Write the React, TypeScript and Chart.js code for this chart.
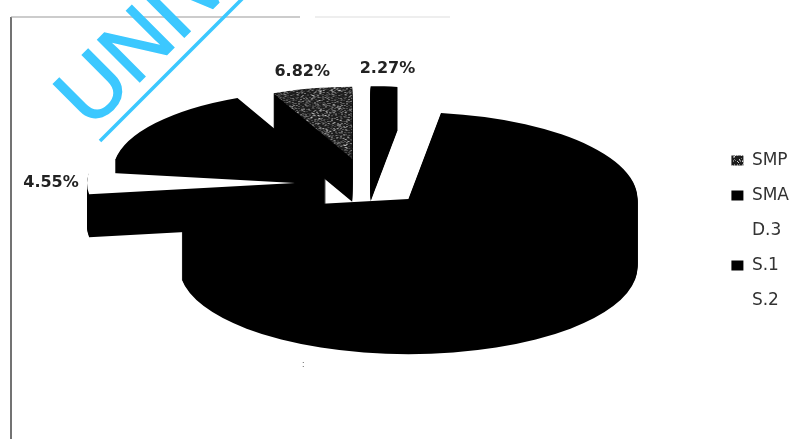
import React, { useEffect, useRef } from "react";
import { Chart, registerables } from "chart.js";

Chart.register(...registerables);

// Share of respondents per education level, clockwise from the rotation start.
const categories = ["SMP", "SMA", "D.3", "S.1", "S.2", ""];
const shares = [6.82, 2.27, 0, 70.45, 4.55, 15.91];
const labelledCategories = ["SMP", "SMA", "S.2"];

// Presentation of each slice, in the same order as the categories.
const sliceRadius = [190, 190, 190, 229, 208, 213];
const sliceDepth = [43, 43, 43, 68, 43, 43];
const sliceExplode = [65, 65, 65, 60, 71, 50];
const labelDistance = [300, 301, 190, 229, 315, 205];
// Back-to-front paint order of the extruded slices.
const paintOrder = [0, 1, 5, 2, 3, 4];

const TILT = 0.38;
const CENTER_X = 366;
const CENTER_Y = 183;
const ROTATION = -24.55;

function speckle(): CanvasPattern | string {
  const tile = document.createElement("canvas");
  tile.width = 48;
  tile.height = 48;
  const g = tile.getContext("2d");
  if (!g) return "#222";
  g.fillStyle = "#1c1c1c";
  g.fillRect(0, 0, 48, 48);
  // Small linear congruential sequence so the stipple is the same on every draw.
  let s = 12345;
  for (let i = 0; i < 620; i++) {
    s = (s * 1103515 + 12345) % 2147483648;
    const x = (s >> 8) % 48;
    s = (s * 1103515 + 12345) % 2147483648;
    const y = (s >> 8) % 48;
    g.fillStyle = i % 3 === 0 ? "#d0d0d0" : "#7a7a7a";
    g.fillRect(x, y, 1, 1);
  }
  return g.createPattern(tile, "repeat") ?? "#222";
}

const pie3d = {
  id: "pie3d",
  afterDatasetsUpdate(chart: any) {
    const arcs = chart.getDatasetMeta(0).data;
    arcs.forEach((arc: any, i: number) => {
      arc.outerRadius = sliceRadius[i];
    });
  },
  beforeDatasetDraw(chart: any) {
    const { ctx } = chart;
    const arcs = chart.getDatasetMeta(0).data;
    for (const i of paintOrder) {
      const arc = arcs[i];
      const face = arc.options;
      const side = { ...face, backgroundColor: "#000", borderColor: "#000" };
      const mid = (arc.startAngle + arc.endAngle) / 2;
      const place = (drop: number) => {
        ctx.save();
        ctx.translate(CENTER_X, CENTER_Y + drop);
        ctx.scale(1, TILT);
        ctx.translate(Math.cos(mid) * sliceExplode[i], Math.sin(mid) * sliceExplode[i]);
        ctx.translate(-arc.x, -arc.y);
      };
      arc.options = side;
      for (let drop = sliceDepth[i]; drop > 0; drop--) {
        place(drop);
        arc.draw(ctx);
        ctx.restore();
      }
      arc.options = face;
      place(0);
      arc.draw(ctx);
      ctx.restore();
    }
    return false;
  },
  afterDraw(chart: any) {
    const { ctx } = chart;
    const arcs = chart.getDatasetMeta(0).data;
    ctx.save();

    // Share labels sit on a ring beyond each slice's rim.
    ctx.fillStyle = "#222";
    ctx.font = 'bold 16px "DejaVu Sans"';
    ctx.textAlign = "center";
    ctx.textBaseline = "middle";
    labelledCategories.forEach((name) => {
      const i = categories.indexOf(name);
      const mid = (arcs[i].startAngle + arcs[i].endAngle) / 2;
      const x = CENTER_X + Math.cos(mid) * labelDistance[i];
      const y = CENTER_Y + Math.sin(mid) * labelDistance[i] * TILT;
      ctx.fillText(`${shares[i].toFixed(2)}%`, x, y);
    });

    // Page frame.
    ctx.strokeStyle = "#444";
    ctx.lineWidth = 1.5;
    ctx.beginPath();
    ctx.moveTo(11, 439);
    ctx.lineTo(11, 17);
    ctx.stroke();
    ctx.strokeStyle = "#999";
    ctx.lineWidth = 1;
    ctx.beginPath();
    ctx.moveTo(11, 17);
    ctx.lineTo(300, 17);
    ctx.stroke();
    ctx.strokeStyle = "#ddd";
    ctx.beginPath();
    ctx.moveTo(315, 17);
    ctx.lineTo(450, 17);
    ctx.stroke();

    // Diagonal institution stamp.
    ctx.translate(100, 141);
    ctx.rotate(-Math.PI / 4);
    ctx.fillStyle = "#3cc8ff";
    ctx.strokeStyle = "#3cc8ff";
    ctx.font = '86px "Liberation Sans"';
    ctx.textAlign = "left";
    ctx.textBaseline = "alphabetic";
    ctx.lineWidth = 1.6;
    ctx.fillText("UNIVERSITAS", 1, -14);
    ctx.strokeText("UNIVERSITAS", 1, -14);
    ctx.lineWidth = 3.5;
    ctx.beginPath();
    ctx.moveTo(0, 0);
    ctx.lineTo(220, 0);
    ctx.stroke();
    ctx.restore();

    ctx.fillStyle = "#555";
    ctx.font = '9px "Liberation Sans"';
    ctx.fillText(":", 302, 367);
  },
};

export default function App() {
  const canvasRef = useRef<HTMLCanvasElement | null>(null);

  useEffect(() => {
    document.body.style.margin = "0";
    const canvas = canvasRef.current;
    if (!canvas) return;
    const chart = new Chart(canvas, {
      type: "pie",
      data: {
        labels: categories,
        datasets: [
          {
            data: shares,
            backgroundColor: [speckle(), "#000", "#fff", "#000", "#fff", "#000"],
            borderWidth: 0,
            clip: false,
          },
        ],
      },
      options: {
        responsive: false,
        animation: false,
        rotation: ROTATION,
        layout: { padding: { top: 22, right: 6, bottom: 0, left: 0 } },
        plugins: {
          tooltip: { enabled: false },
          legend: {
            position: "right",
            labels: {
              color: "#333",
              boxWidth: 12,
              boxHeight: 10,
              padding: 18,
              font: { family: '"DejaVu Sans"', size: 17 },
              filter: (item: any) => item.text !== "",
            },
          },
        },
      },
      plugins: [pie3d],
    } as any);
    return () => chart.destroy();
  }, []);

  return <canvas ref={canvasRef} width={805} height={439} style={{ display: "block" }} />;
}
